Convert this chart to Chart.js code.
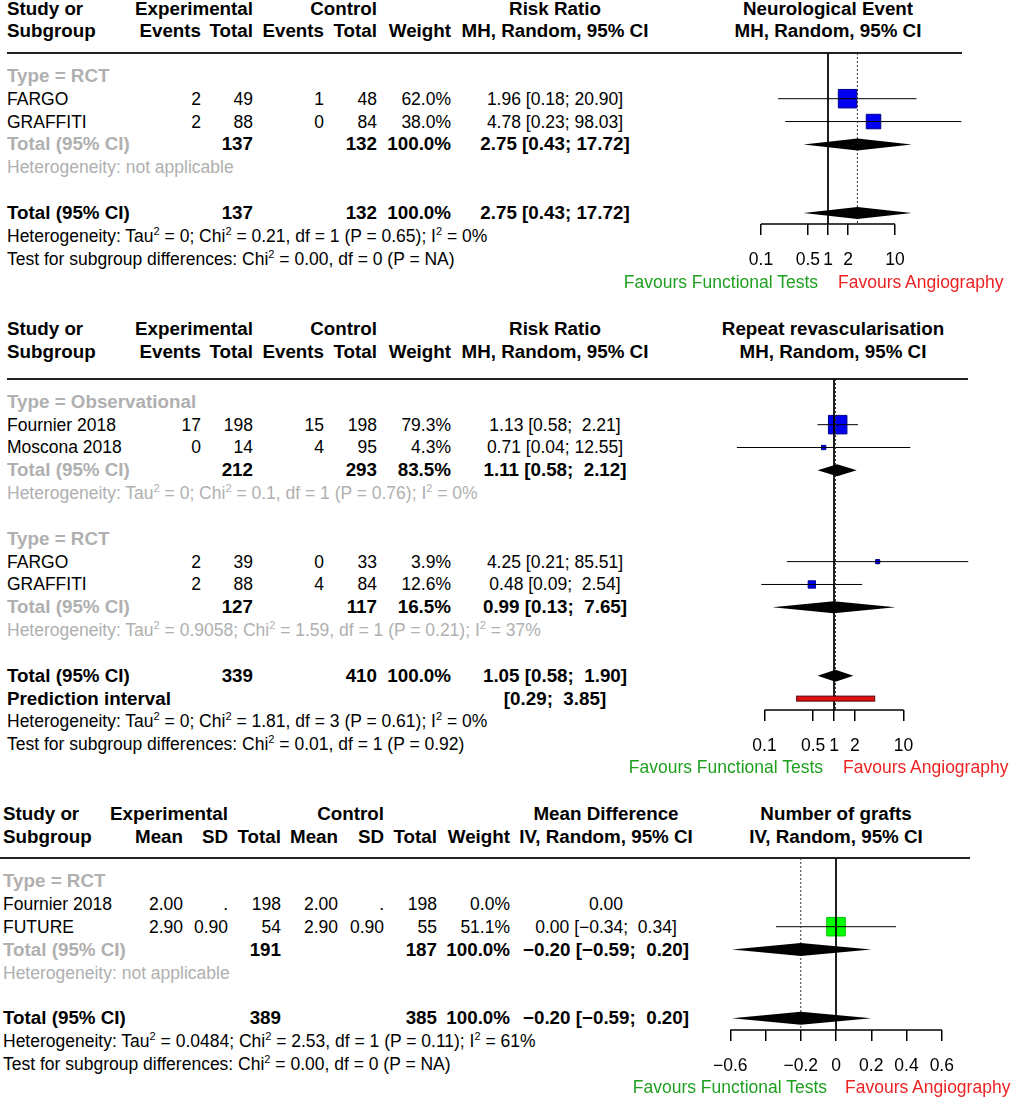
<!DOCTYPE html>
<html>
<head>
<meta charset="utf-8">
<script src="https://cdn.jsdelivr.net/npm/chart.js@4.4.1/dist/chart.umd.min.js"></script>
<style>
  body { margin: 0; background: #fff; width: 1026px; height: 1099px; position: relative; overflow: hidden;
         font-family: "Liberation Sans", Arial, Helvetica, sans-serif; font-size: 17.5px; color: #000; }
  .t { position: absolute; white-space: pre; line-height: 20px; }
  .b { font-weight: bold; font-size: 18.8px; }
  .g { color: #b0b0b0; }
  .hr { position: absolute; height: 2px; background: #222; }
  canvas { position: absolute; }
  sup { font-size: 11px; line-height: 0; vertical-align: baseline; position: relative; top: -7px; }
</style>
</head>
<body>
<script>
// ---- Neurological event (risk ratio) ----
const neuroStudy = ['FARGO', 'GRAFFITI'];
const neuroExpEvents = [2, 2];
const neuroExpTotal = [49, 88];
const neuroCtlEvents = [1, 0];
const neuroCtlTotal = [48, 84];
const neuroWeight = [62.0, 38.0];
const neuroRR = [1.96, 4.78];
const neuroLo = [0.18, 0.23];
const neuroHi = [20.90, 98.03];
const neuroTotals = [137, 132];
const neuroPooled = [2.75, 0.43, 17.72];

// ---- Repeat revascularisation (risk ratio) ----
const revStudy = ['Fournier 2018', 'Moscona 2018', 'FARGO', 'GRAFFITI'];
const revExpEvents = [17, 0, 2, 2];
const revExpTotal = [198, 14, 39, 88];
const revCtlEvents = [15, 4, 0, 4];
const revCtlTotal = [198, 95, 33, 84];
const revWeight = [79.3, 4.3, 3.9, 12.6];
const revRR = [1.13, 0.71, 4.25, 0.48];
const revLo = [0.58, 0.04, 0.21, 0.09];
const revHi = [2.21, 12.55, 85.51, 2.54];
const revObsTotals = [212, 293, 83.5];
const revRctTotals = [127, 117, 16.5];
const revAllTotals = [339, 410, 100.0];
const revObsPooled = [1.11, 0.58, 2.12];
const revRctPooled = [0.99, 0.13, 7.65];
const revAllPooled = [1.05, 0.58, 1.90];
const revPredInt = [0.29, 3.85];

// ---- Number of grafts (mean difference) ----
const graftStudy = ['Fournier 2018', 'FUTURE'];
const graftExpMean = [2.00, 2.90];
const graftExpSD = [null, 0.90];
const graftExpTotal = [198, 54];
const graftCtlMean = [2.00, 2.90];
const graftCtlSD = [null, 0.90];
const graftCtlTotal = [198, 55];
const graftWeight = [0.0, 51.1];
const graftMD = [0.00, 0.00];
const graftLo = [null, -0.34];
const graftHi = [null, 0.34];
const graftSubTotals = [191, 187];
const graftAllTotals = [389, 385];
const graftPooled = [-0.20, -0.59, 0.20];

const rrTicks = [0.1, 0.5, 1, 2, 10];
const rrTickLabels = ['0.1', '0.5', '1', '2', '10'];
const mdTicks = [-0.6, -0.4, -0.2, 0, 0.2, 0.4, 0.6];
const mdTickLabels = ['\u22120.6', '', '\u22120.2', '0', '0.2', '0.4', '0.6'];

const FONT = '"Liberation Sans", Arial, Helvetica, sans-serif';
const GREEN = '#1f9f1f';
const RED = '#ee2222';

function put(x, y, html, align, cls) {
    var d = document.createElement('div');
    d.className = 't ' + (cls || '');
    d.innerHTML = html.replace(/\^2/g, '<sup>2</sup>');
    d.style.top = (y - 10) + 'px';
    if (align === 'r') d.style.right = (1026 - x) + 'px';
    else if (align === 'c') { d.style.left = x + 'px'; d.style.transform = 'translateX(-50%)'; }
    else d.style.left = x + 'px';
    if (cls && cls.indexOf('col') >= 0) d.style.color = cls.indexOf('green') >= 0 ? GREEN : RED;
    document.body.appendChild(d);
}

function hline(x0, x1, y) {
    var d = document.createElement('div');
    d.className = 'hr';
    d.style.left = x0 + 'px'; d.style.width = (x1 - x0) + 'px'; d.style.top = (y - 1) + 'px';
    document.body.appendChild(d);
}

const f2 = v => v.toFixed(2).replace('-', '\u2212');
const pct = v => v.toFixed(1) + '%';
function ci(est, lo, hi) {
    if (lo == null) return f2(est);
    return f2(est) + ' [' + f2(lo) + '; ' + f2(hi).padStart(5) + ']';
}

// diamonds, prediction bar and the short axis line
const forestShapes = {
    id: 'forestShapes',
    afterDatasetsDraw(chart, args, opts) {
        const ctx = chart.ctx, x = chart.scales.x, y = chart.scales.y;
        ctx.save();
        (opts.diamonds || []).forEach(d => {
            const yc = y.getPixelForValue(d.row);
            ctx.beginPath();
            ctx.moveTo(x.getPixelForValue(d.v[1]), yc);
            ctx.lineTo(x.getPixelForValue(d.v[0]), yc - opts.h);
            ctx.lineTo(x.getPixelForValue(d.v[2]), yc);
            ctx.lineTo(x.getPixelForValue(d.v[0]), yc + opts.h);
            ctx.closePath();
            ctx.fillStyle = '#000';
            ctx.fill();
        });
        if (opts.pred) {
            const yc = y.getPixelForValue(opts.pred.row);
            const a = x.getPixelForValue(opts.pred.v[0]), b = x.getPixelForValue(opts.pred.v[1]);
            ctx.fillStyle = '#dd1111';
            ctx.strokeStyle = '#5a0000';
            ctx.lineWidth = 1;
            ctx.fillRect(a, yc - 2.5, b - a, 5);
            ctx.strokeRect(a, yc - 2.5, b - a, 5);
        }
        const t = opts.ticks;
        ctx.beginPath();
        ctx.moveTo(x.getPixelForValue(t[0]), chart.chartArea.bottom);
        ctx.lineTo(x.getPixelForValue(t[t.length - 1]), chart.chartArea.bottom);
        ctx.strokeStyle = '#000';
        ctx.lineWidth = 1.5;
        ctx.stroke();
        ctx.restore();
    }
};

function vline(v, rowMax, color, dash) {
    return { data: [{x: v, y: 0}, {x: v, y: rowMax}], borderColor: color, borderWidth: 1,
             borderDash: dash, pointRadius: 0 };
}

function forest(g) {
    const rowMax = (g.axisY - g.lineY) / g.rowH;
    const cv = document.createElement('canvas');
    cv.width = g.x1 - g.x0;
    cv.height = g.axisY - g.lineY + 50;
    cv.style.left = g.x0 + 'px';
    cv.style.top = g.lineY + 'px';
    document.body.appendChild(cv);

    const ds = [];
    ds.push(vline(g.nullValue, rowMax, '#000', []));
    ds.push(vline(g.refValue, rowMax, '#333', [2, 2]));
    g.rows.forEach((r, i) => {
        if (g.lo[i] == null) return;
        ds.push({ data: [{x: g.lo[i], y: r}, {x: g.hi[i], y: r}], borderColor: '#000',
                  borderWidth: 1, pointRadius: 0 });
    });
    const idx = g.rows.map((r, i) => i).filter(i => g.weight[i] > 0);
    const wMax = Math.max.apply(null, g.weight);
    const pts = idx.map(i => ({x: g.est[i], y: g.rows[i]}));
    ds.push({ data: pts, showLine: false, pointStyle: 'rect',
              pointRadius: idx.map(i => 18.5 * Math.sqrt(g.weight[i] / wMax) / Math.SQRT2),
              pointBackgroundColor: g.fill, pointBorderColor: g.edge, pointBorderWidth: 1 });
    ds.push({ data: pts, showLine: false, pointStyle: 'cross', pointRadius: 2.5,
              pointBorderColor: '#000', pointBorderWidth: 1 });

    new Chart(cv, {
        type: 'line',
        data: { datasets: ds },
        plugins: [forestShapes],
        options: {
            responsive: false,
            animation: false,
            events: [],
            layout: { padding: 0, autoPadding: false },
            plugins: {
                legend: { display: false },
                tooltip: { enabled: false },
                forestShapes: { diamonds: g.diamonds, pred: g.pred, h: g.dh, ticks: g.ticks }
            },
            scales: {
                x: {
                    type: g.log ? 'logarithmic' : 'linear',
                    min: g.min, max: g.max,
                    afterBuildTicks: s => { s.ticks = g.ticks.map(v => ({ value: v })); },
                    afterFit: s => { s.height = 50; },
                    border: { display: false },
                    grid: { drawOnChartArea: false, drawTicks: true, tickLength: 11, color: '#000', lineWidth: 1.5 },
                    ticks: { autoSkip: false, maxRotation: 0, padding: 15, color: '#000',
                             font: { family: FONT, size: 17.5 },
                             callback: (v, i) => g.tickLabels[i] }
                },
                y: { type: 'linear', reverse: true, min: 0, max: rowMax, display: false }
            }
        }
    });
    return r => g.lineY + r * g.rowH;
}

// ================= Panel 1 =================
(function () {
    const c = {ee: 201, et: 253, ce: 324, ct: 377, w: 451, ci: 555, plot: 828};
    put(7, 9, 'Study or', 'l', 'b');
    put(7, 31, 'Subgroup', 'l', 'b');
    put(c.et, 9, 'Experimental', 'r', 'b');
    put(c.ct, 9, 'Control', 'r', 'b');
    put(c.ci, 9, 'Risk Ratio', 'c', 'b');
    put(c.plot, 9, 'Neurological Event', 'c', 'b');
    put(c.ee, 31, 'Events', 'r', 'b');
    put(c.et, 31, 'Total', 'r', 'b');
    put(c.ce, 31, 'Events', 'r', 'b');
    put(c.ct, 31, 'Total', 'r', 'b');
    put(c.w, 31, 'Weight', 'r', 'b');
    put(c.ci, 31, 'MH, Random, 95% CI', 'c', 'b');
    put(c.plot, 31, 'MH, Random, 95% CI', 'c', 'b');
    hline(7, 962, 53);

    const Y = forest({
        lineY: 53, axisY: 224, rowH: 22.85, x0: 694, x1: 962, log: true, min: 0.01, max: 100,
        nullValue: 1, refValue: neuroPooled[0], rows: [2, 3],
        est: neuroRR, lo: neuroLo, hi: neuroHi, weight: neuroWeight, fill: '#0000f0', edge: '#00008b',
        diamonds: [{row: 4, v: neuroPooled}, {row: 7, v: neuroPooled}], dh: 6,
        ticks: rrTicks, tickLabels: rrTickLabels
    });

    put(7, Y(1), 'Type = RCT', 'l', 'b g');
    neuroStudy.forEach((s, i) => {
        const y = Y(2 + i);
        put(7, y, s);
        put(c.ee, y, String(neuroExpEvents[i]), 'r');
        put(c.et, y, String(neuroExpTotal[i]), 'r');
        put(c.ce, y, String(neuroCtlEvents[i]), 'r');
        put(c.ct, y, String(neuroCtlTotal[i]), 'r');
        put(c.w, y, pct(neuroWeight[i]), 'r');
        put(c.ci, y, ci(neuroRR[i], neuroLo[i], neuroHi[i]), 'c');
    });
    [[4, 'b g'], [7, 'b']].forEach(([r, cls]) => {
        const y = Y(r);
        put(7, y, 'Total (95% CI)', 'l', cls);
        put(c.et, y, String(neuroTotals[0]), 'r', 'b');
        put(c.ct, y, String(neuroTotals[1]), 'r', 'b');
        put(c.w, y, '100.0%', 'r', 'b');
        put(c.ci, y, ci(neuroPooled[0], neuroPooled[1], neuroPooled[2]), 'c', 'b');
    });
    put(7, Y(5), 'Heterogeneity: not applicable', 'l', 'g');
    put(7, Y(8), 'Heterogeneity: Tau^2 = 0; Chi^2 = 0.21, df = 1 (P = 0.65); I^2 = 0%');
    put(7, Y(9), 'Test for subgroup differences: Chi^2 = 0.00, df = 0 (P = NA)');
    put(818, 282, 'Favours Functional Tests', 'r', 'col green');
    put(838, 282, 'Favours Angiography', 'l', 'col red');
})();

// ================= Panel 2 =================
(function () {
    const c = {ee: 201, et: 253, ce: 324, ct: 377, w: 451, ci: 555, plot: 833};
    put(7, 329, 'Study or', 'l', 'b');
    put(7, 352, 'Subgroup', 'l', 'b');
    put(c.et, 329, 'Experimental', 'r', 'b');
    put(c.ct, 329, 'Control', 'r', 'b');
    put(c.ci, 329, 'Risk Ratio', 'c', 'b');
    put(c.plot, 329, 'Repeat revascularisation', 'c', 'b');
    put(c.ee, 352, 'Events', 'r', 'b');
    put(c.et, 352, 'Total', 'r', 'b');
    put(c.ce, 352, 'Events', 'r', 'b');
    put(c.ct, 352, 'Total', 'r', 'b');
    put(c.w, 352, 'Weight', 'r', 'b');
    put(c.ci, 352, 'MH, Random, 95% CI', 'c', 'b');
    put(c.plot, 352, 'MH, Random, 95% CI', 'c', 'b');
    hline(7, 968, 379);

    const rows = [2, 3, 8, 9];
    const Y = forest({
        lineY: 379, axisY: 710, rowH: 22.83, x0: 695, x1: 973, log: true, min: 0.01, max: 100,
        nullValue: 1, refValue: revAllPooled[0], rows: rows,
        est: revRR, lo: revLo, hi: revHi, weight: revWeight, fill: '#0000f0', edge: '#00008b',
        diamonds: [{row: 4, v: revObsPooled}, {row: 10, v: revRctPooled}, {row: 13, v: revAllPooled}], dh: 6,
        pred: {row: 14, v: revPredInt},
        ticks: rrTicks, tickLabels: rrTickLabels
    });

    put(7, Y(1), 'Type = Observational', 'l', 'b g');
    put(7, Y(7), 'Type = RCT', 'l', 'b g');
    revStudy.forEach((s, i) => {
        const y = Y(rows[i]);
        put(7, y, s);
        put(c.ee, y, String(revExpEvents[i]), 'r');
        put(c.et, y, String(revExpTotal[i]), 'r');
        put(c.ce, y, String(revCtlEvents[i]), 'r');
        put(c.ct, y, String(revCtlTotal[i]), 'r');
        put(c.w, y, pct(revWeight[i]), 'r');
        put(c.ci, y, ci(revRR[i], revLo[i], revHi[i]), 'c');
    });
    [[4, 'b g', revObsTotals, revObsPooled], [10, 'b g', revRctTotals, revRctPooled],
     [13, 'b', revAllTotals, revAllPooled]].forEach(([r, cls, tot, p]) => {
        const y = Y(r);
        put(7, y, 'Total (95% CI)', 'l', cls);
        put(c.et, y, String(tot[0]), 'r', 'b');
        put(c.ct, y, String(tot[1]), 'r', 'b');
        put(c.w, y, pct(tot[2]), 'r', 'b');
        put(c.ci, y, ci(p[0], p[1], p[2]), 'c', 'b');
    });
    put(7, Y(5), 'Heterogeneity: Tau^2 = 0; Chi^2 = 0.1, df = 1 (P = 0.76); I^2 = 0%', 'l', 'g');
    put(7, Y(11), 'Heterogeneity: Tau^2 = 0.9058; Chi^2 = 1.59, df = 1 (P = 0.21); I^2 = 37%', 'l', 'g');
    put(7, Y(14), 'Prediction interval', 'l', 'b');
    put(c.ci, Y(14), '[' + f2(revPredInt[0]) + '; ' + f2(revPredInt[1]).padStart(5) + ']', 'c', 'b');
    put(7, Y(15), 'Heterogeneity: Tau^2 = 0; Chi^2 = 1.81, df = 3 (P = 0.61); I^2 = 0%');
    put(7, Y(16), 'Test for subgroup differences: Chi^2 = 0.01, df = 1 (P = 0.92)');
    put(823, 767, 'Favours Functional Tests', 'r', 'col green');
    put(843, 767, 'Favours Angiography', 'l', 'col red');
})();

// ================= Panel 3 =================
(function () {
    const c = {em: 183, es: 228, et: 281, cm: 338, cs: 384, ct: 437, w: 510, ci: 606, plot: 836};
    put(3, 814, 'Study or', 'l', 'b');
    put(3, 837, 'Subgroup', 'l', 'b');
    put(c.es, 814, 'Experimental', 'r', 'b');
    put(c.cs, 814, 'Control', 'r', 'b');
    put(c.ci, 814, 'Mean Difference', 'c', 'b');
    put(c.plot, 814, 'Number of grafts', 'c', 'b');
    put(c.em, 837, 'Mean', 'r', 'b');
    put(c.es, 837, 'SD', 'r', 'b');
    put(c.et, 837, 'Total', 'r', 'b');
    put(c.cm, 837, 'Mean', 'r', 'b');
    put(c.cs, 837, 'SD', 'r', 'b');
    put(c.ct, 837, 'Total', 'r', 'b');
    put(c.w, 837, 'Weight', 'r', 'b');
    put(c.ci, 837, 'IV, Random, 95% CI', 'c', 'b');
    put(c.plot, 837, 'IV, Random, 95% CI', 'c', 'b');
    hline(0, 970, 858);

    const Y = forest({
        lineY: 858, axisY: 1030, rowH: 22.9, x0: 695, x1: 970, log: false, min: -0.8, max: 0.76,
        nullValue: 0, refValue: graftPooled[0], rows: [2, 3],
        est: graftMD, lo: graftLo, hi: graftHi, weight: graftWeight, fill: '#00ff00', edge: '#00c000',
        diamonds: [{row: 4, v: graftPooled}, {row: 7, v: graftPooled}], dh: 6.5,
        ticks: mdTicks, tickLabels: mdTickLabels
    });

    put(3, Y(1), 'Type = RCT', 'l', 'b g');
    graftStudy.forEach((s, i) => {
        const y = Y(2 + i);
        put(3, y, s);
        put(c.em, y, f2(graftExpMean[i]), 'r');
        put(c.es, y, graftExpSD[i] == null ? '.' : f2(graftExpSD[i]), 'r');
        put(c.et, y, String(graftExpTotal[i]), 'r');
        put(c.cm, y, f2(graftCtlMean[i]), 'r');
        put(c.cs, y, graftCtlSD[i] == null ? '.' : f2(graftCtlSD[i]), 'r');
        put(c.ct, y, String(graftCtlTotal[i]), 'r');
        put(c.w, y, pct(graftWeight[i]), 'r');
        put(c.ci, y, ci(graftMD[i], graftLo[i], graftHi[i]), 'c');
    });
    [[4, 'b g', graftSubTotals], [7, 'b', graftAllTotals]].forEach(([r, cls, tot]) => {
        const y = Y(r);
        put(3, y, 'Total (95% CI)', 'l', cls);
        put(c.et, y, String(tot[0]), 'r', 'b');
        put(c.ct, y, String(tot[1]), 'r', 'b');
        put(c.w, y, '100.0%', 'r', 'b');
        put(c.ci, y, ci(graftPooled[0], graftPooled[1], graftPooled[2]), 'c', 'b');
    });
    put(3, Y(5), 'Heterogeneity: not applicable', 'l', 'g');
    put(3, Y(8), 'Heterogeneity: Tau^2 = 0.0484; Chi^2 = 2.53, df = 1 (P = 0.11); I^2 = 61%');
    put(3, Y(9), 'Test for subgroup differences: Chi^2 = 0.00, df = 0 (P = NA)');
    put(827, 1087, 'Favours Functional Tests', 'r', 'col green');
    put(845, 1087, 'Favours Angiography', 'l', 'col red');
})();
</script>
</body>
</html>
